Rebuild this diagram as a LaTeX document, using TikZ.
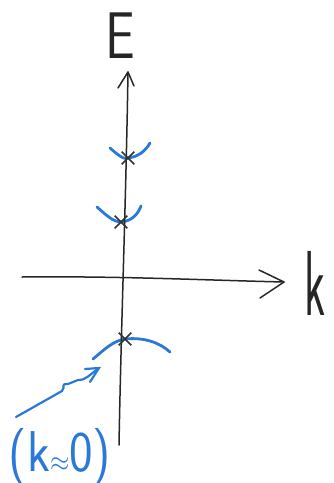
\documentclass[tikz,border=0pt]{standalone}
\usetikzlibrary{shapes.misc}
\definecolor{pen}{HTML}{2A78D8}
\begin{document}
\begin{tikzpicture}[x=1pt,y=-1pt,
  axis/.style={line width=1.5pt,draw=black!85,line cap=round,line join=round},
  band/.style={line width=2.8pt,draw=pen,line cap=round},
  xmark/.style={cross out,draw=black!80,line width=1.6pt,minimum size=11pt,inner sep=0pt},
  lbl/.style={font=\sffamily\fontsize{66}{66}\selectfont,text=black!85,inner sep=0pt},
  blbl/.style={font=\sffamily\fontsize{50}{50}\selectfont,text=pen,inner sep=0pt}]
\useasboundingbox (0,0) rectangle (334,483);
% level positions
\coordinate (c1) at (128,158);
\coordinate (c2) at (121,222);
\coordinate (c3) at (125,339);
% bands
\draw[band] (110,148) .. controls (118,155) and (124,160) .. (c1) .. controls (137,157) and (145,152) .. (150,143);
\draw[band] (97,207) .. controls (105,214) and (113,222) .. (c2) .. controls (132,221) and (138,214) .. (141,206);
\draw[band] (93,359) .. controls (105,349) and (113,341) .. (c3) .. controls (145,337) and (160,343) .. (170,352);
% axes
\coordinate (etop) at (128,72);
\coordinate (ebot) at (119,445);
\coordinate (kleft) at (22,277);
\coordinate (kright) at (284,282);
\draw[axis] (ebot) .. controls (121,330) and (126,200) .. (etop);
\draw[axis] (118,88) -- (etop) -- (134,86);
\draw[axis] (kleft) .. controls (120,276) and (200,280) .. (kright);
\draw[axis] (259,270) -- (kright) -- (260,298);
\node[lbl,xscale=0.8] (E) at (120,36) {E};
\node[lbl,xscale=0.7,yscale=1.4] (k) at (315,283) {k};
% crosses
\node[xmark] (m1) at (c1) {};
\node[xmark] (m2) at (c2) {};
\node[xmark] (m3) at (c3) {};
% annotation
\node[blbl,yscale=1.15] (lab) at (60,457) {(k$\approx$0)};
\coordinate (atip) at (99,368);
\draw[band,line width=2.2pt] (16,417) -- (62,391) .. controls (66,386) and (60,384) .. (68,384) -- (78,380) .. controls (86,380) and (88,376) .. (atip);
\draw[band,line width=2.2pt] (85,369) -- (atip) -- (90,382);
\end{tikzpicture}
\end{document}
